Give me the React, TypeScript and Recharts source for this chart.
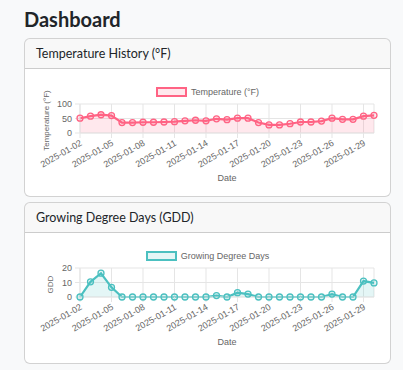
import React from 'react';
import { ComposedChart, Area, XAxis, YAxis, CartesianGrid, Legend } from 'recharts';

const dates = [
  '2025-01-02', '2025-01-03', '2025-01-04', '2025-01-05', '2025-01-06', '2025-01-07', '2025-01-08',
  '2025-01-09', '2025-01-10', '2025-01-11', '2025-01-12', '2025-01-13', '2025-01-14', '2025-01-15',
  '2025-01-16', '2025-01-17', '2025-01-18', '2025-01-19', '2025-01-20', '2025-01-21', '2025-01-22',
  '2025-01-23', '2025-01-24', '2025-01-25', '2025-01-26', '2025-01-27', '2025-01-28', '2025-01-29',
  '2025-01-30',
];
const temperatures = [51, 58, 63, 60, 36, 36, 37, 37, 38, 39, 42, 44, 42, 49, 46, 51, 51, 36, 28, 28, 32, 38, 38, 41, 51, 47, 47, 58, 61];
const gddValues = [0, 10.5, 16.4, 6.7, 0, 0, 0, 0, 0, 0, 0, 0, 0, 1, 0, 3, 2, 0, 0, 0, 0, 0, 0, 0, 2, 0, 0, 11, 9.7];
const tickDates = ['2025-01-02', '2025-01-05', '2025-01-08', '2025-01-11', '2025-01-14', '2025-01-17', '2025-01-20', '2025-01-23', '2025-01-26', '2025-01-29'];
const tempTicks = [0, 50, 100];
const gddTicks = [0, 10, 20];

const xTickIdx = tickDates.map((d) => dates.indexOf(d));
const tempData = dates.map((d, i) => ({ i, date: d, value: temperatures[i] }));
const gddData = dates.map((d, i) => ({ i, date: d, value: gddValues[i] }));

const CW = 365;
const CH = 127;
const GRID = '#e5e5e5';
const TICK = '#666';
const FONT = '"Liberation Sans", Arial, Helvetica, sans-serif';

const XTick = (props: any) => {
  const { x, y, payload } = props;
  return (
    <g transform={`translate(${x + 1},${y + 2})`}>
      <text x={0} y={0} dy="0.35em" textAnchor="end" transform="rotate(-30)" fontSize={9} fill={TICK} fontFamily={FONT}>
        {dates[payload.value]}
      </text>
    </g>
  );
};

type ChartProps = {
  data: any[];
  name: string;
  color: string;
  fill: string;
  yTitle: string;
  yTitleOffset: number;
  yTicks: number[];
};

const SeriesChart = ({ data, name, color, fill, yTitle, yTitleOffset, yTicks }: ChartProps) => {
  const yTitleContent = (p: any) => {
    const vb = p.viewBox;
    const cx = vb.x + vb.width - yTitleOffset;
    const cy = vb.y + vb.height / 2 + 2;
    return (
      <text x={cx} y={cy} textAnchor="middle" dominantBaseline="central" transform={`rotate(-90 ${cx} ${cy})`} fontSize={8} fill={TICK} fontFamily={FONT}>
        {yTitle}
      </text>
    );
  };
  const xTitleContent = (p: any) => {
    const vb = p.viewBox;
    return (
      <text x={vb.x + vb.width / 2} y={vb.y + 44.5} textAnchor="middle" dominantBaseline="central" fontSize={9} fill={TICK} fontFamily={FONT}>
        Date
      </text>
    );
  };
  const legendContent = () => (
    <div style={{ height: 19, display: 'flex', justifyContent: 'center', alignItems: 'flex-start', fontFamily: FONT, fontSize: 9, color: TICK }}>
      <div style={{ display: 'flex', alignItems: 'center', height: 14 }}>
        <span style={{ display: 'inline-block', width: 27, height: 6, border: `2px solid ${color}`, background: fill, marginRight: 4 }} />
        <span style={{ lineHeight: '14px' }}>{name}</span>
      </div>
    </div>
  );
  return (
    <ComposedChart width={CW} height={CH} data={data} margin={{ top: 16, right: 16, left: 0, bottom: 0 }}>
      <CartesianGrid stroke={GRID} />
      <XAxis
        dataKey="i"
        type="number"
        domain={[0, dates.length - 1]}
        ticks={xTickIdx}
        interval={0}
        height={63}
        tickSize={5}
        tickMargin={2}
        tick={<XTick />}
        axisLine={{ stroke: GRID }}
        tickLine={{ stroke: GRID }}
        label={{ content: xTitleContent }}
      />
      <YAxis
        type="number"
        domain={[yTicks[0], yTicks[yTicks.length - 1]]}
        ticks={yTicks}
        interval={0}
        width={55}
        tickSize={5}
        tickMargin={3}
        tick={{ fontSize: 9, fill: TICK, fontFamily: FONT }}
        axisLine={{ stroke: GRID }}
        tickLine={{ stroke: GRID }}
        label={{ content: yTitleContent }}
      />
      <Legend verticalAlign="top" content={legendContent} wrapperStyle={{ top: 16, left: 0, width: CW }} />
      <Area
        type="linear"
        dataKey="value"
        name={name}
        stroke={color}
        strokeWidth={2.2}
        fill={fill}
        fillOpacity={1}
        dot={{ r: 3, fill: fill, stroke: color, strokeWidth: 1.3 }}
        activeDot={false}
        isAnimationActive={false}
      />
    </ComposedChart>
  );
};

const Card = ({ title, top, height, children }: { title: string; top: number; height: number; children: React.ReactNode }) => (
  <div
    style={{
      position: 'absolute',
      left: 24,
      top,
      width: 367,
      height,
      boxSizing: 'border-box',
      border: '1px solid rgba(0,0,0,0.175)',
      borderRadius: 6,
      background: '#fff',
      overflow: 'hidden',
    }}
  >
    <div
      style={{
        height: 29,
        lineHeight: '29px',
        borderBottom: '1px solid rgba(0,0,0,0.175)',
        background: 'rgba(33,37,41,0.03)',
        paddingLeft: 11,
        fontFamily: 'Lato, "Noto Sans", sans-serif',
        fontSize: 12.5,
        color: '#212529',
      }}
    >
      {title}
    </div>
    <div>{children}</div>
  </div>
);

export default function App() {
  return (
    <div style={{ position: 'absolute', left: 0, top: 0, width: 403, height: 370, background: '#f8f9fa', overflow: 'hidden' }}>
      <div
        style={{
          position: 'absolute',
          left: 24,
          top: 7,
          fontFamily: 'Lato, "Noto Sans", sans-serif',
          fontWeight: 700,
          fontSize: 20,
          lineHeight: '24px',
          color: '#212529',
        }}
      >
        Dashboard
      </div>
      <Card title="Temperature History (°F)" top={38} height={159}>
        <SeriesChart
          data={tempData}
          name="Temperature (°F)"
          color="rgb(255, 99, 132)"
          fill="rgba(255, 99, 132, 0.15)"
          yTitle="Temperature (°F)"
          yTitleOffset={34}
          yTicks={tempTicks}
        />
      </Card>
      <Card title="Growing Degree Days (GDD)" top={202} height={162}>
        <SeriesChart
          data={gddData}
          name="Growing Degree Days"
          color="rgb(75, 192, 192)"
          fill="rgba(75, 192, 192, 0.15)"
          yTitle="GDD"
          yTitleOffset={30}
          yTicks={gddTicks}
        />
      </Card>
    </div>
  );
}
